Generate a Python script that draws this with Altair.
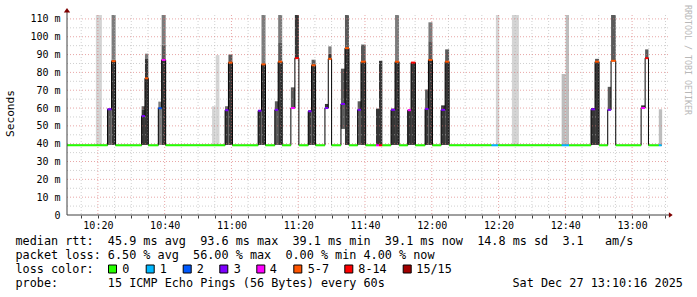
import altair as alt
import pandas as pd

# ---------------- data (x = minutes after 10:00, y = ms) ----------------
X_DOMAIN = [10.75, 190.75]
Y_DOMAIN = [0, 112.2]

# median step function: start minute, median rtt (ms), loss class index
step_t = [10.75, 22.9, 24.1, 25.3, 33.1, 34.1, 35.1, 38.1, 39.1, 40.3, 58.1, 59.1, 60.3,
          68.0, 69.0, 70.2, 73.0, 74.0, 75.2, 77.8, 79.0, 80.2, 83.0, 84.0, 85.2, 88.0,
          89.0, 90.0, 92.8, 94.0, 95.2, 97.8, 98.8, 100.2, 103.3, 104.2, 105.2, 107.8,
          109.0, 110.2, 112.8, 113.8, 115.1, 118.0, 119.0, 120.2, 122.8, 124.0, 125.2,
          137.9, 139.9, 158.9, 161.1, 167.7, 168.9, 170.1, 172.7, 173.7, 175.1, 182.7,
          183.9, 184.9, 188.0]
step_v = [39.1, 59.3, 86.3, 39.1, 55.5, 76.7, 39.1, 59.9, 87.0, 39.1, 58.8, 85.5, 39.1,
          58.5, 84.5, 39.1, 59.0, 86.0, 39.1, 60.0, 88.0, 39.1, 58.2, 84.0, 39.1, 60.0,
          87.6, 39.1, 62.3, 93.6, 39.1, 59.0, 86.0, 39.1, 39.1, 39.1, 39.1, 59.0, 86.0,
          39.1, 58.8, 85.5, 39.1, 59.5, 87.0, 39.1, 59.0, 86.0, 39.1, 39.1, 39.1, 39.1,
          39.1, 59.3, 86.0, 39.1, 59.0, 86.5, 39.1, 60.0, 88.0, 39.1, 39.1]
step_loss = [0, 3, 5, 0, 3, 5, 0, 2, 4, 0, 3, 5, 0, 3, 5, 0, 3, 5, 0, 4, 6, 0, 3, 5, 0, 3,
             5, 0, 3, 5, 0, 3, 5, 0, 4, 6, 0, 3, 5, 0, 4, 6, 0, 3, 5, 0, 3, 5, 0, 1, 0, 1,
             0, 3, 5, 0, 3, 5, 0, 4, 6, 0, 1]
data_end = 188.85

# smoke bands
smoke_t0 = [19.4, 22.9, 24.1, 24.1, 33.1, 33.1, 34.1, 34.1, 38.1, 39.1, 39.1, 39.1, 54.2,
            55.3, 58.1, 58.1, 59.1, 59.1, 68.0, 69.0, 69.0, 73.0, 74.0, 74.0, 74.0, 77.8,
            79.0, 83.0, 84.0, 84.0, 88.0, 89.0, 89.0, 92.8, 94.0, 94.0, 97.8, 98.8, 98.8,
            103.3, 104.2, 107.8, 109.0, 109.0, 112.8, 113.8, 118.0, 118.0, 119.0, 119.0,
            119.0, 122.8, 124.0, 124.0, 139.2, 144.0, 158.9, 160.1, 167.7, 168.9, 168.9,
            172.7, 173.7, 182.7, 183.9, 188.0]
smoke_t1 = [21.2, 24.1, 25.3, 25.3, 34.1, 34.1, 35.1, 35.1, 39.1, 40.3, 40.3, 40.3, 55.3,
            56.4, 59.1, 59.1, 60.3, 60.3, 69.0, 70.2, 70.2, 74.0, 75.2, 75.2, 75.2, 79.0,
            80.2, 84.0, 85.2, 85.2, 89.0, 90.0, 90.0, 94.0, 95.2, 95.2, 98.8, 100.2, 100.2,
            104.2, 105.2, 109.0, 110.2, 110.2, 113.8, 115.1, 119.0, 119.0, 120.2, 120.2,
            120.2, 124.0, 125.2, 125.2, 140.2, 146.1, 160.1, 161.1, 168.9, 170.1, 170.1,
            173.7, 175.1, 183.9, 184.9, 189.0]
smoke_y0 = [39.3, 39.3, 39.3, 87.1, 39.3, 59.0, 39.3, 87.5, 39.3, 39.3, 87.1, 95.6, 39.3,
            39.3, 39.3, 59.0, 39.3, 85.3, 39.3, 39.3, 84.4, 39.3, 39.3, 85.9, 96.5, 60.0,
            88.0, 39.3, 39.3, 83.8, 60.0, 87.6, 90.5, 48.3, 39.3, 93.5, 39.3, 39.3, 85.9,
            39.3, 39.3, 39.3, 39.3, 85.9, 39.3, 39.3, 39.3, 59.5, 39.3, 87.1, 97.5, 39.3,
            39.3, 86.2, 39.3, 39.3, 39.3, 39.3, 39.3, 39.3, 86.0, 59.0, 86.5, 60.0, 88.0,
            39.3]
smoke_y1 = [115, 59.7, 87.1, 115, 59.0, 61.0, 87.5, 90.5, 63.6, 87.1, 95.6, 115, 61.0,
            89.7, 59.0, 61.0, 85.3, 90.0, 58.6, 84.4, 115, 63.8, 85.9, 96.5, 115, 71.6,
            115, 58.6, 83.8, 87.1, 62.3, 90.5, 94.6, 82.1, 93.5, 115, 63.8, 85.9, 95.6,
            59.7, 86.5, 59.7, 85.9, 115, 58.6, 85.3, 59.5, 70.4, 87.1, 97.5, 108.1, 61.5,
            86.2, 92.9, 115, 115, 79.1, 115, 60.0, 86.0, 87.6, 71.9, 115, 61.5, 92.9, 59.3]
smoke_shade = ["LL", "M", "D", "L", "D", "M", "D", "L", "L", "D", "M", "L", "LL", "LL",
               "D", "M", "D", "M", "D", "D", "L", "M", "D", "M", "L", "M", "D", "D", "D",
               "M", "D", "D", "L", "M", "D", "M", "M", "D", "M", "D", "D", "D", "D", "L",
               "D", "D", "D", "M", "D", "M", "L", "D", "D", "M", "LL", "LL", "LB", "LB",
               "D", "D", "M", "M", "M", "D", "M", "LB"]

loss_labels = ["0", "1", "2", "3", "4", "5-7", "8-14", "15/15"]
loss_colors = ["#26ff00", "#00b8ff", "#0059ff", "#7e00ff", "#ff00ff", "#ff5500",
               "#ff0000", "#a10000"]
shade_names = ["D", "M", "L", "LL", "LB"]
shade_colors = ["#363636", "#5a5a5a", "#7c7c7c", "#d4d4d4", "#bdbdbd"]

y_label_values = list(range(0, 111, 10))
x_tick_values = list(range(15, 191, 5))
grid_y_minor = list(range(5, 111, 10))
grid_y_major = list(range(10, 111, 10))
grid_x_major = list(range(20, 181, 20))
grid_x_minor = [v for v in range(15, 191, 5) if v % 20 != 0]

legend_lines = [
    "median rtt:  45.9 ms avg  93.6 ms max  39.1 ms min  39.1 ms now  14.8 ms sd  3.1   am/s",
    "packet loss: 6.50 % avg  56.00 % max  0.00 % min 4.00 % now",
    "loss color:",
    "probe:       15 ICMP Echo Pings (56 Bytes) every 60s",
]
date_text = "Sat Dec 27 13:10:16 2025"

# ---------------- tables ----------------
smoke_df = pd.DataFrame({"t0": smoke_t0, "t1": smoke_t1, "y0": smoke_y0,
                         "y1": smoke_y1, "shade": smoke_shade})
ends = step_t[1:] + [data_end]
med_df = pd.DataFrame({"t0": step_t, "t1": ends, "v": step_v, "loss": step_loss})
pts = []
o = 0
for a, b, v in zip(step_t, ends, step_v):
    pts.append({"t": a, "v": v, "o": o}); o += 1
    pts.append({"t": b, "v": v, "o": o}); o += 1
step_df = pd.DataFrame(pts)

# ---------------- layout ----------------
W, H = 601, 200
PL, PT = 67, 15
MONO = "DejaVu Sans Mono"
NB = "\u00a0"

xs = alt.Scale(domain=X_DOMAIN, nice=False, zero=False)
ys = alt.Scale(domain=Y_DOMAIN, nice=False, zero=False)

x_label_expr = ("datum.value % 20 == 0 ? (10 + floor(datum.value / 60)) + ':' + "
                "(datum.value % 60 < 10 ? '0' : '') + (datum.value % 60) : ''")
y_label_expr = f"datum.value == 0 ? '0{NB}{NB}' : datum.value + '{NB}m'"
AX = alt.Axis(values=x_tick_values, labelExpr=x_label_expr, tickSize=3, tickColor="#404040",
              domain=False, grid=False, labelPadding=2, labelFont=MONO, labelFontSize=10,
              labelColor="black", labelOverlap=False, labelFlush=False, title=None)
AY = alt.Axis(values=y_label_values, labelExpr=y_label_expr, ticks=False, domain=False,
              grid=False, labelPadding=7, labelFont=MONO, labelFontSize=10,
              labelColor="black", labelOverlap=False, labelFlush=False, title=None)


def X(f):
    return alt.X(f, scale=xs, axis=AX)


def Y(f):
    return alt.Y(f, scale=ys, axis=AY)


dummy = pd.DataFrame({"a": [0]})
layers = []

# smoke
layers.append(alt.Chart(smoke_df).mark_rect(clip=True).encode(
    x=X("t0:Q"), x2="t1:Q", y=Y("y0:Q"), y2="y1:Q",
    color=alt.Color("shade:N", scale=alt.Scale(domain=shade_names, range=shade_colors),
                    legend=None),
))

# grid (drawn over the smoke, semi-transparent like rrdtool)
layers.append(alt.Chart(pd.DataFrame({"v": grid_y_minor})).mark_rule(
    color="#b0b0b0", strokeDash=[1, 2], strokeWidth=1, opacity=0.6).encode(
    y=Y("v:Q"), x=alt.value(0), x2=alt.value(W)))
layers.append(alt.Chart(pd.DataFrame({"t": grid_x_minor})).mark_rule(
    color="#b0b0b0", strokeDash=[1, 2], strokeWidth=1, opacity=0.6).encode(
    x=X("t:Q"), y=alt.value(0), y2=alt.value(H)))
layers.append(alt.Chart(pd.DataFrame({"v": grid_y_major})).mark_rule(
    color="#d86a6a", strokeDash=[1, 2], strokeWidth=1, opacity=0.6).encode(
    y=Y("v:Q"), x=alt.value(0), x2=alt.value(W)))
layers.append(alt.Chart(pd.DataFrame({"t": grid_x_major})).mark_rule(
    color="#d86a6a", strokeDash=[1, 2], strokeWidth=1, opacity=0.6).encode(
    x=X("t:Q"), y=alt.value(0), y2=alt.value(H)))

# black stepped median line
layers.append(alt.Chart(step_df).mark_line(color="black", strokeWidth=1).encode(
    x=X("t:Q"), y=Y("v:Q"), order="o:Q"))

# coloured median segments
layers.append(alt.Chart(med_df).mark_rule(strokeWidth=2, strokeCap="butt").encode(
    x=X("t0:Q"), x2="t1:Q", y=Y("v:Q"),
    color=alt.Color("loss:O", scale=alt.Scale(domain=list(range(8)), range=loss_colors),
                    legend=None)))

# axis lines and arrows
layers.append(alt.Chart(dummy).mark_rule(color="#404040", strokeWidth=1).encode(
    x=alt.value(0), y=alt.value(-5), y2=alt.value(H)))
layers.append(alt.Chart(dummy).mark_rule(color="#404040", strokeWidth=1).encode(
    x=alt.value(0), x2=alt.value(603), y=alt.value(H)))
layers.append(alt.Chart(dummy).mark_point(
    shape="M-1,0.6L1,0.6L0,-0.8Z", filled=True, size=40, color="#7f0000", opacity=1).encode(
    x=alt.value(0), y=alt.value(-4.5)))
layers.append(alt.Chart(dummy).mark_point(
    shape="M-0.6,-1L0.8,0L-0.6,1Z", filled=True, size=30, color="#7f0000", opacity=1).encode(
    x=alt.value(603.5), y=alt.value(H)))

# y title and side text
layers.append(alt.Chart(dummy).mark_text(
    font=MONO, fontSize=11.2, angle=270, align="center", baseline="middle",
    color="black").encode(x=alt.value(11.2 - PL), y=alt.value(113.5 - PT),
                          text=alt.value("Seconds")))
layers.append(alt.Chart(dummy).mark_text(
    font=MONO, fontSize=8.3, angle=90, align="center", baseline="middle",
    color="#b8b8b8").encode(x=alt.value(687 - PL), y=alt.value(60 - PT),
                            text=alt.value("RRDTOOL / TOBI OETIKER")))

# legend text lines
line_y = [244.8, 258.8, 272.8, 286.8]
for s, yy in zip(legend_lines, line_y):
    layers.append(alt.Chart(dummy).mark_text(
        font=MONO, fontSize=11.8, align="left", baseline="alphabetic", color="black").encode(
        x=alt.value(15.5 - PL), y=alt.value(yy - PT), text=alt.value(s.replace(" ", NB))))
layers.append(alt.Chart(dummy).mark_text(
    font=MONO, fontSize=11.8, align="left", baseline="alphabetic", color="black").encode(
    x=alt.value(512.5 - PL), y=alt.value(286.8 - PT), text=alt.value(date_text.replace(" ", NB))))

box_x = [112.5, 150.2, 187.2, 223.8, 260.8, 297.8, 348.8, 407.2]
lab_x = [122.3, 159.7, 196.7, 233.7, 269.7, 307.7, 358.3, 416.3]
for bx, lx, lab, col in zip(box_x, lab_x, loss_labels, loss_colors):
    layers.append(alt.Chart(dummy).mark_point(
        shape="square", filled=True, size=64, fill=col, stroke="black", strokeWidth=1,
        opacity=1).encode(x=alt.value(bx - PL), y=alt.value(269 - PT)))
    layers.append(alt.Chart(dummy).mark_text(
        font=MONO, fontSize=11.8, align="left", baseline="alphabetic", color="black").encode(
        x=alt.value(lx - PL), y=alt.value(272.8 - PT), text=alt.value(lab)))

chart = alt.layer(*layers).resolve_scale(color="independent").properties(
    width=W, height=H,
    autosize=alt.AutoSizeParams(type="none"),
    padding={"left": PL, "top": PT, "right": 697 - PL - W, "bottom": 297 - PT - H},
    background="white",
).configure_view(stroke=None)

chart.save("out.html", embed_options={"renderer": "svg", "actions": False})
